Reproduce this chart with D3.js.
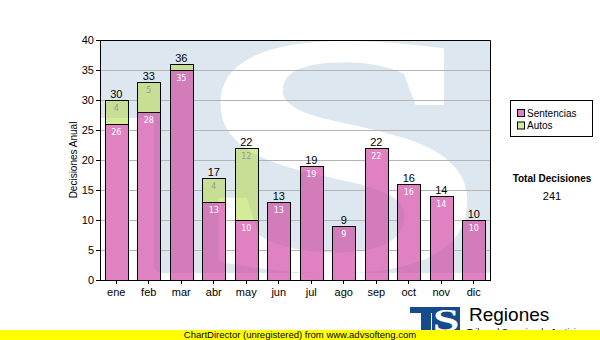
<!DOCTYPE html>
<html>
<head>
<meta charset="utf-8">
<script src="https://cdn.jsdelivr.net/npm/d3@7"></script>
<style>
  html, body { margin: 0; padding: 0; background: #fff; }
  svg { display: block; }
</style>
</head>
<body>
<svg id="chart" width="600" height="340"></svg>
<script>
// Monthly decisions, stacked by type
const months = ["ene", "feb", "mar", "abr", "may", "jun", "jul", "ago", "sep", "oct", "nov", "dic"];
const sentencias = [26, 28, 35, 13, 10, 13, 19, 9, 22, 16, 14, 10];
const autos = [4, 5, 1, 4, 12, 0, 0, 0, 0, 0, 0, 0];
const yTicks = [0, 5, 10, 15, 20, 25, 30, 35, 40];
const seriesNames = ["Sentencias", "Autos"];

const seriesColors = { Sentencias: "#e081c1", Autos: "#d4ec98" };
const innerLabelColors = { Sentencias: "#ffffff", Autos: "#999999" };
const sansFont = "'Liberation Sans', Arial, sans-serif";
const smallFont = "'DejaVu Sans', Verdana, sans-serif";

const plot = { left: 100, top: 40, right: 490, bottom: 280 };
const svg = d3.select("#chart");

const x = d3.scaleBand()
  .domain(months)
  .range([plot.left, plot.right])
  .paddingInner(0.28)
  .paddingOuter(0.14);

const y = d3.scaleLinear()
  .domain([0, 40])
  .range([plot.bottom, plot.top]);

const rows = months.map((m, i) => ({ month: m, Sentencias: sentencias[i], Autos: autos[i] }));
const stacked = d3.stack().keys(seriesNames)(rows);
const totals = rows.map(r => r.Sentencias + r.Autos);
const grandTotal = d3.sum(totals);

// pixel-snapped geometry of one stacked segment
function seg(d) {
  const x0 = Math.round(x(d.data.month)) + 0.5;
  const w = Math.round(x.bandwidth());
  const yTop = Math.round(y(d[1])) + 0.5;
  const yBot = Math.round(y(d[0])) + 0.5;
  return { x: x0, y: yTop, w: w, h: yBot - yTop };
}

const defs = svg.append("defs");

defs.append("clipPath").attr("id", "plotClip")
  .append("rect")
  .attr("x", plot.left).attr("y", plot.top)
  .attr("width", plot.right - plot.left).attr("height", plot.bottom - plot.top);

// watermark: pale block with a large letter S knocked out
const mask = defs.append("mask")
  .attr("id", "wmMask")
  .attr("maskUnits", "userSpaceOnUse")
  .attr("x", 0).attr("y", 0).attr("width", 600).attr("height", 340);
mask.append("rect")
  .attr("x", 90).attr("y", 30).attr("width", 64).attr("height", 88)
  .attr("fill", "#fff");
mask.append("path")
  .attr("d", "M154,30H500V273H163Q154,273 154,264Z")
  .attr("fill", "#fff");
mask.append("text")
  .attr("transform", "translate(340,268) scale(1.55,1)")
  .attr("text-anchor", "middle")
  .attr("font-family", "'Liberation Serif', 'DejaVu Serif', serif")
  .attr("font-weight", "bold")
  .attr("font-size", 340)
  .attr("fill", "#000")
  .attr("stroke", "#000")
  .attr("stroke-width", 4)
  .text("S");

// plot background
svg.append("rect")
  .attr("x", plot.left).attr("y", plot.top)
  .attr("width", plot.right - plot.left).attr("height", plot.bottom - plot.top)
  .attr("fill", "#ffffff");
svg.append("g").attr("clip-path", "url(#plotClip)")
  .append("rect")
  .attr("x", plot.left).attr("y", plot.top)
  .attr("width", plot.right - plot.left).attr("height", plot.bottom - plot.top)
  .attr("fill", "#dde7f0")
  .attr("mask", "url(#wmMask)");

// horizontal grid
svg.append("g")
  .selectAll("line")
  .data(yTicks.filter(v => v > 0 && v < 40))
  .join("line")
  .attr("x1", plot.left).attr("x2", plot.right)
  .attr("y1", d => Math.round(y(d)) + 0.5)
  .attr("y2", d => Math.round(y(d)) + 0.5)
  .attr("stroke", "#b4b4b4")
  .attr("stroke-width", 1);

// stacked bars
const nonEmpty = layer => layer.filter(d => d[1] - d[0] > 0);

const barClip = defs.append("clipPath").attr("id", "barClip");
stacked.forEach(layer => {
  barClip.selectAll(null)
    .data(nonEmpty(layer))
    .join("rect")
    .attr("x", d => seg(d).x).attr("y", d => seg(d).y)
    .attr("width", d => seg(d).w).attr("height", d => seg(d).h);
});

const barsG = svg.append("g");
stacked.forEach(layer => {
  barsG.append("g")
    .selectAll("rect")
    .data(nonEmpty(layer))
    .join("rect")
    .attr("x", d => seg(d).x).attr("y", d => seg(d).y)
    .attr("width", d => seg(d).w).attr("height", d => seg(d).h)
    .attr("fill", seriesColors[layer.key]);
});

// the watermark tints the bars where it lies behind them
svg.append("g").attr("clip-path", "url(#barClip)")
  .append("rect")
  .attr("x", plot.left).attr("y", plot.top)
  .attr("width", plot.right - plot.left).attr("height", plot.bottom - plot.top)
  .attr("fill", "#5a6482")
  .attr("fill-opacity", 0.1)
  .attr("mask", "url(#wmMask)");

// bar outlines
stacked.forEach(layer => {
  barsG.append("g")
    .selectAll("rect")
    .data(nonEmpty(layer))
    .join("rect")
    .attr("x", d => seg(d).x).attr("y", d => seg(d).y)
    .attr("width", d => seg(d).w).attr("height", d => seg(d).h)
    .attr("fill", "none")
    .attr("stroke", "#000")
    .attr("stroke-width", 1);
});

// segment value labels
stacked.forEach(layer => {
  svg.append("g")
    .selectAll("text")
    .data(layer.filter(d => y(d[0]) - y(d[1]) >= 12))
    .join("text")
    .attr("x", d => x(d.data.month) + x.bandwidth() / 2)
    .attr("y", d => y(d[1]) + 10.5)
    .attr("text-anchor", "middle")
    .attr("font-family", smallFont)
    .attr("font-size", 8)
    .attr("fill", innerLabelColors[layer.key])
    .text(d => d[1] - d[0]);
});

// stack totals
svg.append("g")
  .selectAll("text")
  .data(rows)
  .join("text")
  .attr("x", d => x(d.month) + x.bandwidth() / 2)
  .attr("y", (d, i) => y(totals[i]) - 2.5)
  .attr("text-anchor", "middle")
  .attr("font-family", sansFont)
  .attr("font-size", 11)
  .attr("fill", "#000")
  .text((d, i) => totals[i]);

// axes
const yAxis = svg.append("g")
  .attr("transform", `translate(${plot.left},0)`)
  .call(d3.axisLeft(y).tickValues(yTicks).tickSize(4).tickSizeOuter(0).tickPadding(2));
const xAxis = svg.append("g")
  .attr("transform", `translate(0,${plot.bottom})`)
  .call(d3.axisBottom(x).tickSize(4).tickSizeOuter(0).tickPadding(4));
[yAxis, xAxis].forEach(g => {
  g.selectAll("path, line").attr("stroke", "#000").attr("shape-rendering", "crispEdges");
  g.selectAll("text")
    .attr("font-family", sansFont)
    .attr("font-size", 11)
    .attr("fill", "#000");
});

// top and right frame
svg.append("path")
  .attr("d", `M${plot.left},${plot.top + 0.5}H${plot.right + 0.5}V${plot.bottom + 0.5}`)
  .attr("fill", "none")
  .attr("stroke", "#000");

svg.append("text")
  .attr("transform", `translate(77,${(plot.top + plot.bottom) / 2}) rotate(-90)`)
  .attr("text-anchor", "middle")
  .attr("font-family", sansFont)
  .attr("font-size", 10)
  .attr("fill", "#000")
  .text("Decisiones Anual");

// legend
const legend = svg.append("g");
legend.append("rect")
  .attr("x", 510.5).attr("y", 100.5).attr("width", 82).attr("height", 36)
  .attr("fill", "#fff").attr("stroke", "#000");
seriesNames.forEach((name, i) => {
  legend.append("rect")
    .attr("x", 517.5).attr("y", 109.5 + i * 12.5).attr("width", 7).attr("height", 7)
    .attr("fill", seriesColors[name]).attr("stroke", "#000");
  legend.append("text")
    .attr("x", 527).attr("y", 116.8 + i * 12.5)
    .attr("font-family", sansFont)
    .attr("font-size", 10)
    .attr("fill", "#000")
    .text(name);
});

svg.append("text")
  .attr("x", 552).attr("y", 181.5)
  .attr("text-anchor", "middle")
  .attr("font-family", sansFont)
  .attr("font-weight", "bold")
  .attr("font-size", 10)
  .attr("fill", "#000")
  .text("Total Decisiones");
svg.append("text")
  .attr("x", 552).attr("y", 200)
  .attr("text-anchor", "middle")
  .attr("font-family", sansFont)
  .attr("font-size", 11)
  .attr("fill", "#000")
  .text(grandTotal);

// brand mark
const logo = svg.append("g");
const logoBlue = "#154a8c";
logo.append("rect").attr("x", 410).attr("y", 307).attr("width", 24).attr("height", 6).attr("fill", logoBlue);
logo.append("rect").attr("x", 421).attr("y", 307).attr("width", 10).attr("height", 23).attr("fill", logoBlue);
logo.append("rect").attr("x", 432).attr("y", 307).attr("width", 28).attr("height", 23).attr("fill", logoBlue);
logo.append("text")
  .attr("transform", "translate(446,331) scale(1.5,1)")
  .attr("text-anchor", "middle")
  .attr("font-family", "'Liberation Serif', serif")
  .attr("font-weight", "bold")
  .attr("font-size", 32)
  .attr("fill", "#fff")
  .text("S");
logo.append("text")
  .attr("x", 469).attr("y", 321)
  .attr("font-family", sansFont)
  .attr("font-size", 19)
  .attr("fill", "#000")
  .text("Regiones");
logo.append("text")
  .attr("x", 467).attr("y", 335)
  .attr("font-family", sansFont)
  .attr("font-size", 9)
  .attr("fill", "#000")
  .text("Tribunal Superior de Justicia");

// footer band
svg.append("rect")
  .attr("x", 0).attr("y", 330).attr("width", 600).attr("height", 10)
  .attr("fill", "#ffff00");
svg.append("text")
  .attr("x", 300).attr("y", 338)
  .attr("text-anchor", "middle")
  .attr("font-family", sansFont)
  .attr("font-size", 9.5)
  .attr("fill", "#000")
  .text("ChartDirector (unregistered) from www.advsofteng.com");
</script>
</body>
</html>
